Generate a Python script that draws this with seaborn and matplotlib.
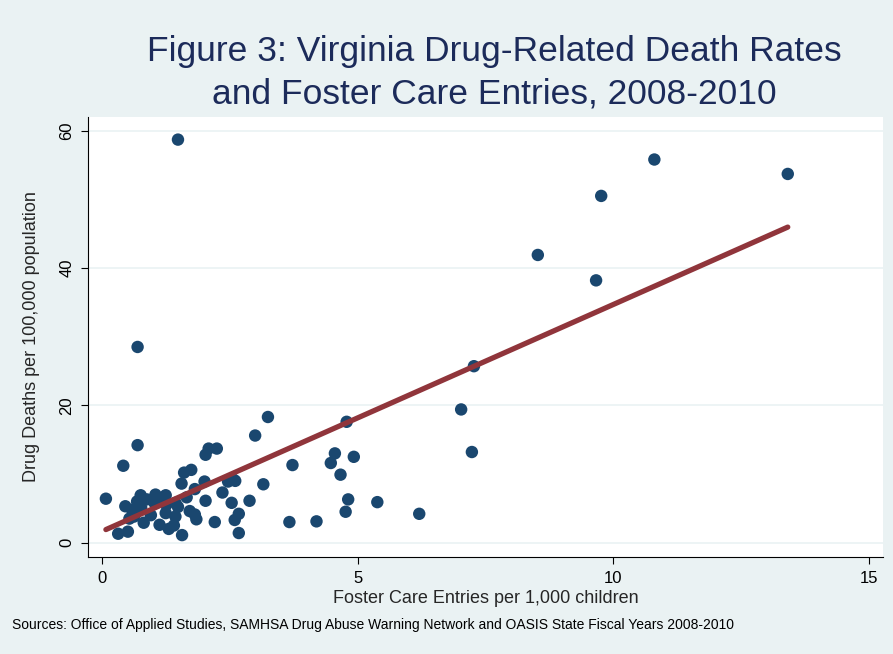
import numpy as np
import pandas as pd
import seaborn as sns
import matplotlib.pyplot as plt

# Foster care entries per 1,000 children (x) and drug deaths per 100,000 (y)
foster = [1.48, 0.69, 0.69, 0.41, 0.07, 10.80, 13.41, 9.76, 8.52, 9.66,
          7.27, 7.02, 7.23, 6.20, 5.38, 4.78, 3.72, 4.55, 4.47, 4.92,
          4.66, 4.81, 4.76, 3.66, 4.19, 3.24, 2.99, 2.08, 2.24, 2.02,
          1.74, 1.60, 1.55, 1.81, 2.00, 2.56, 2.46, 2.35, 3.15, 2.88,
          2.53, 2.02, 2.67, 2.59, 2.67, 1.56, 1.40, 1.12, 0.81, 0.50,
          0.31, 0.45, 0.75, 0.68, 0.58, 0.62, 0.53, 1.04, 1.24, 1.12,
          1.02, 1.25, 1.43, 1.48, 1.24, 1.43, 1.71, 1.81, 1.84, 0.87,
          0.76, 2.60, 1.65, 0.95, 1.30, 2.20]
deaths = [58.7, 28.5, 14.2, 11.2, 6.4, 55.8, 53.7, 50.5, 41.9, 38.2,
          25.7, 19.4, 13.2, 4.2, 5.9, 17.6, 11.3, 13.0, 11.6, 12.5,
          9.9, 6.3, 4.5, 3.0, 3.1, 18.3, 15.6, 13.7, 13.7, 12.8,
          10.6, 10.2, 8.6, 7.8, 8.9, 9.2, 8.9, 7.3, 8.5, 6.1,
          5.8, 6.1, 4.2, 3.3, 1.4, 1.1, 2.5, 2.6, 2.9, 1.6,
          1.3, 5.3, 6.9, 6.0, 4.8, 3.8, 3.5, 7.0, 6.9, 6.1,
          5.8, 5.5, 5.8, 5.2, 4.3, 3.8, 4.6, 4.1, 3.4, 6.3,
          5.1, 9.0, 6.6, 4.0, 2.0, 3.0]

df = pd.DataFrame({"foster": foster, "deaths": deaths})

bg = "#EAF2F3"
navy = "#1A476F"
maroon = "#90353B"

sns.set_style("ticks")
plt.rcParams['font.family'] = ['Liberation Sans', 'DejaVu Sans']

fig = plt.figure(figsize=(8.93, 6.54), dpi=100, facecolor=bg)
ax = fig.add_axes([0.0989, 0.1479, 0.8903, 0.6737])
ax.set_facecolor("white")

sns.scatterplot(data=df, x="foster", y="deaths", color=navy, s=80,
                edgecolor="none", ax=ax, zorder=3)
sns.regplot(data=df, x="foster", y="deaths", scatter=False, ci=None,
            color=maroon, line_kws={"linewidth": 3.8, "solid_capstyle": "round"},
            ax=ax, truncate=True)
ax.lines[-1].set_zorder(4)

ax.set_xlim(-0.274, 15.28)
ax.set_ylim(-2.13, 62.04)
ax.set_xticks([0, 5, 10, 15])
ax.set_yticks([0, 20, 40, 60])
ax.yaxis.grid(True, color=bg, linewidth=1.2)
ax.set_axisbelow(True)
for lab in ax.get_yticklabels():
    lab.set_rotation(90)
    lab.set_va("center")
ax.tick_params(axis="both", labelsize=12, length=5, width=0.8, color="black",
               labelcolor="black", pad=5)
sns.despine(ax=ax)
for s in ["left", "bottom"]:
    ax.spines[s].set_color("black")
    ax.spines[s].set_linewidth(0.8)

ax.set_xlabel("Foster Care Entries per 1,000 children", fontsize=13, labelpad=3)
ax.set_ylabel("Drug Deaths per 100,000 population", fontsize=13, labelpad=14)

fig.text(0.553, 0.889, "Figure 3: Virginia Drug-Related Death Rates\nand Foster Care Entries, 2008-2010",
         ha="center", va="center", fontsize=25.5, color="#1C2B5A", linespacing=1.38)
fig.text(0.013, 0.044, "Sources: Office of Applied Studies, SAMHSA Drug Abuse Warning Network and OASIS State Fiscal Years 2008-2010",
         ha="left", va="center", fontsize=10, color="black")

fig.savefig("out.png", dpi=100, facecolor=bg)
